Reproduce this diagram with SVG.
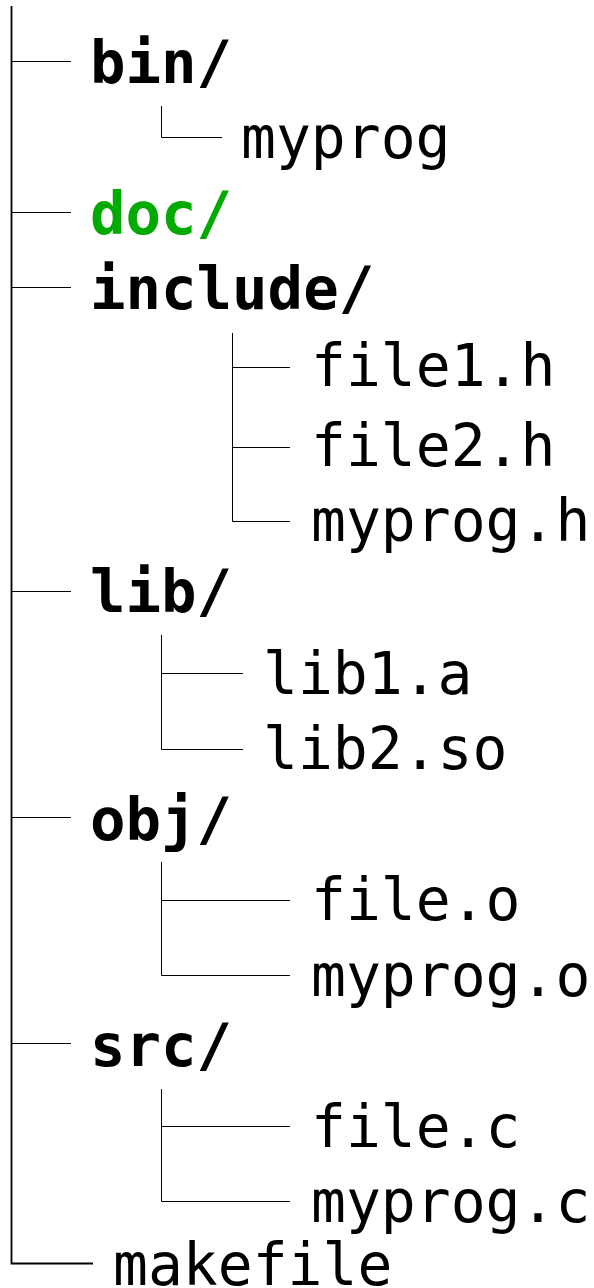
<svg xmlns="http://www.w3.org/2000/svg" width="594" height="1288" viewBox="0 0 594 1288">
  <style>
    .dir { font-family: "DejaVu Sans Mono", "Liberation Mono", monospace; font-weight: bold; font-size: 59px; fill: #000; }
    .file { font-family: "DejaVu Sans Mono", "Liberation Mono", monospace; font-size: 58px; fill: #000; }
    .green { fill: #00aa00; }
    .tree { stroke: #000; stroke-width: 1; fill: none; }
  </style>
  <rect width="594" height="1288" fill="#fff"/>

  <g id="connectors" class="tree">
    <!-- root trunk -->
    <path d="M11.5 6 V1263.5 H93" stroke-width="1.8"/>
    <path d="M11 61.5 H71 M11 212.5 H71 M11 287.5 H71 M11 591.5 H71 M11 817.5 H71 M11 1043.5 H71"/>
    <!-- bin -->
    <path d="M161.5 106 V137.5 H222"/>
    <!-- include -->
    <path d="M232.5 333 V521.5 H290 M232 367.5 H290 M232 447.5 H290"/>
    <!-- lib -->
    <path d="M161.5 635 V749.5 H243 M161 673.5 H243"/>
    <!-- obj -->
    <path d="M161.5 862 V975.5 H290 M161 900.5 H290"/>
    <!-- src -->
    <path d="M161.5 1089 V1201.5 H290 M161 1126.5 H290"/>
  </g>

  <g id="bin"><text class="dir" x="90" y="83">bin/</text></g>
  <g id="bin-myprog"><text class="file" x="241" y="158">myprog</text></g>
  <g id="doc"><text class="dir green" x="90" y="234">doc/</text></g>
  <g id="include"><text class="dir" x="90" y="309">include/</text></g>
  <g id="file1-h"><text class="file" x="311" y="386">file1.h</text></g>
  <g id="file2-h"><text class="file" x="311" y="466">file2.h</text></g>
  <g id="myprog-h"><text class="file" x="311" y="541">myprog.h</text></g>
  <g id="lib"><text class="dir" x="90" y="612">lib/</text></g>
  <g id="lib1-a"><text class="file" x="263" y="694">lib1.a</text></g>
  <g id="lib2-so"><text class="file" x="263" y="769">lib2.so</text></g>
  <g id="obj"><text class="dir" x="90" y="840">obj/</text></g>
  <g id="file-o"><text class="file" x="311" y="920">file.o</text></g>
  <g id="myprog-o"><text class="file" x="311" y="996">myprog.o</text></g>
  <g id="src"><text class="dir" x="90" y="1066">src/</text></g>
  <g id="file-c"><text class="file" x="311" y="1147">file.c</text></g>
  <g id="myprog-c"><text class="file" x="311" y="1222">myprog.c</text></g>
  <g id="makefile"><text class="file" x="113" y="1285">makefile</text></g>
</svg>
